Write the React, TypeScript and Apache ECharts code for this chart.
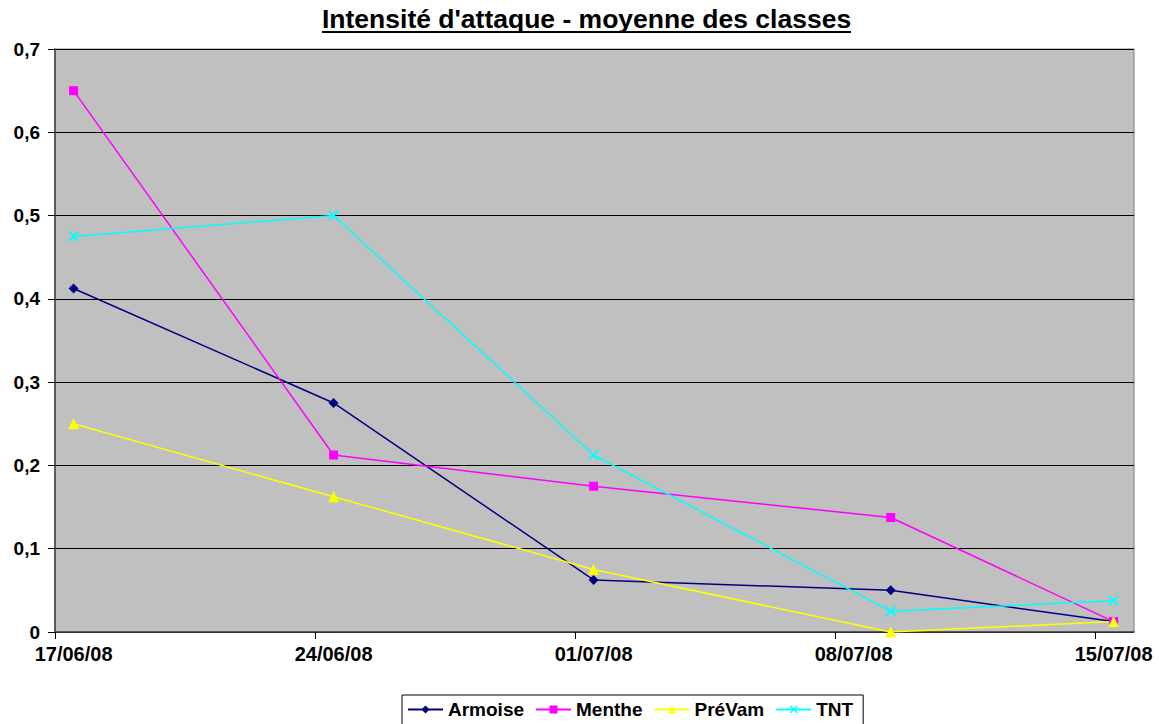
import React, { useEffect, useRef } from "react";
import * as echarts from "echarts";

const titleText = "Intensité d'attaque - moyenne des classes";
const pointDates = ["17/06/08", "24/06/08", "01/07/08", "09/07/08", "15/07/08"];
const tickLabels = ["17/06/08", "24/06/08", "01/07/08", "08/07/08", "15/07/08"];
const armoise = [0.4125, 0.275, 0.0625, 0.05, 0.0125];
const menthe = [0.65, 0.2125, 0.175, 0.1375, 0.0125];
const prevam = [0.25, 0.1625, 0.075, 0, 0.0125];
const tnt = [0.475, 0.5, 0.2125, 0.025, 0.0375];

const FONT = '"Liberation Sans", Arial, sans-serif';

function toDay(s: string): number {
  const [d, m, y] = s.split("/").map(Number);
  return Date.UTC(2000 + y, m - 1, d) / 86400000;
}
const day0 = toDay(tickLabels[0]);
const xs = pointDates.map((d) => toDay(d) - day0);
const tickDays = tickLabels.map((d) => toDay(d) - day0);

const X_SHAPE =
  "path://M0,1.2L1.2,0L5,3.8L8.8,0L10,1.2L6.2,5L10,8.8L8.8,10L5,6.2L1.2,10L0,8.8L3.8,5Z";

export default function App() {
  const ref = useRef<HTMLDivElement>(null);
  useEffect(() => {
    const chart = echarts.init(ref.current!, null, { renderer: "svg" });
    const mk = (name: string, vals: number[], color: string, symbol: string, size: number) => ({
      name,
      type: "line",
      data: vals.map((v, i) => [xs[i], v]),
      symbol,
      symbolSize: size,
      lineStyle: { color, width: 1.5 },
      itemStyle: { color },
      emphasis: { disabled: true },
    });
    chart.setOption({
      animation: false,
      textStyle: { fontFamily: FONT },
      title: {
        text: titleText,
        left: 322,
        top: 5,
        padding: 0,
        textStyle: { fontFamily: FONT, fontSize: 26.5, fontWeight: "bold", color: "#000" },
      },
      graphic: [
        {
          type: "line",
          shape: { x1: 322, y1: 32, x2: 851, y2: 32 },
          style: { stroke: "#000", lineWidth: 2 },
        },
      ],
      grid: {
        left: 55,
        right: 25,
        top: 49,
        bottom: 92,
        show: true,
        backgroundColor: "#C0C0C0",
        borderColor: "#808080",
        borderWidth: 1,
      },
      legend: {
        top: 695,
        left: 402,
        padding: [5, 10, 8, 5],
        borderColor: "#000",
        borderWidth: 1,
        backgroundColor: "#fff",
        itemWidth: 35,
        itemHeight: 10,
        itemGap: 11,
        textStyle: { fontFamily: FONT, fontSize: 19, fontWeight: "bold", color: "#000" },
        data: ["Armoise", "Menthe", "PréVam", "TNT"],
      },
      xAxis: {
        type: "value",
        min: -0.5,
        max: 28.55,
        splitLine: { show: false },
        axisLine: { show: true, onZero: false, lineStyle: { color: "#404040", width: 1.5 } },
        axisTick: {
          show: true,
          length: 7,
          inside: false,
          customValues: tickDays.map((d) => d - 0.5),
          lineStyle: { color: "#000" },
        },
        axisLabel: {
          customValues: tickDays,
          margin: 12,
          fontFamily: FONT,
          fontSize: 20,
          fontWeight: "bold",
          color: "#000",
          formatter: (v: number) => tickLabels[Math.round(v / 7)] ?? "",
        },
      },
      yAxis: {
        type: "value",
        min: 0,
        max: 0.7,
        interval: 0.1,
        axisLine: { show: true, onZero: false, lineStyle: { color: "#404040", width: 1.5 } },
        axisTick: { show: true, length: 7, lineStyle: { color: "#000" } },
        splitLine: { show: true, lineStyle: { color: "#000", width: 1 } },
        axisLabel: {
          margin: 15,
          fontFamily: FONT,
          fontSize: 19,
          fontWeight: "bold",
          color: "#000",
          formatter: (v: number) => (v === 0 ? "0" : v.toFixed(1).replace(".", ",")),
        },
      },
      series: [
        mk("Armoise", armoise, "#000080", "diamond", 10),
        mk("Menthe", menthe, "#FF00FF", "rect", 9),
        mk("PréVam", prevam, "#FFFF00", "triangle", 11),
        mk("TNT", tnt, "#00FFFF", X_SHAPE, 11),
      ],
    });
    return () => chart.dispose();
  }, []);
  return (
    <div
      ref={ref}
      style={{ position: "fixed", left: 0, top: 0, width: 1159, height: 724, background: "#fff" }}
    />
  );
}
